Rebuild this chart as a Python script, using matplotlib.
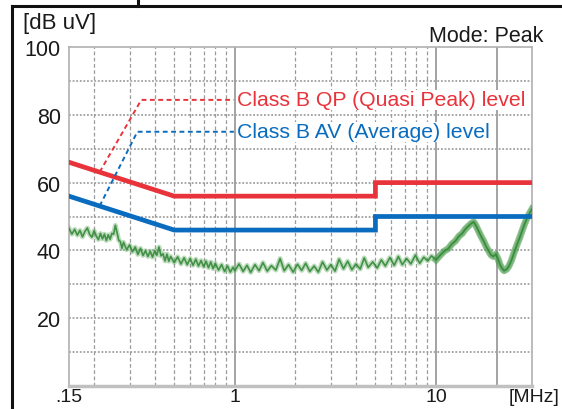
import matplotlib
matplotlib.use("Agg")
import matplotlib.pyplot as plt
from matplotlib.lines import Line2D

plt.rcParams["font.family"] = ["Liberation Sans", "DejaVu Sans"]

# limit lines (CISPR class B) [MHz, dBuV]
qp_freq = [0.15, 0.5, 5.0, 5.0, 30.0]
qp_level = [66, 56, 56, 60, 60]
av_freq = [0.15, 0.5, 5.0, 5.0, 30.0]
av_level = [56, 46, 46, 50, 50]

noise_freq = [
    0.15, 0.155, 0.16, 0.165, 0.17, 0.175, 0.18, 0.185, 0.19, 0.195, 0.2, 0.205,
    0.21, 0.215, 0.22, 0.225, 0.23, 0.235, 0.24, 0.245, 0.25, 0.255, 0.26, 0.265,
    0.27, 0.275, 0.28, 0.29, 0.30, 0.31, 0.32, 0.33, 0.34, 0.35, 0.36, 0.37, 0.38,
    0.39, 0.40, 0.41, 0.42, 0.43, 0.44, 0.45, 0.46, 0.47, 0.48, 0.50, 0.52, 0.54,
    0.56, 0.58, 0.60, 0.62, 0.64, 0.66, 0.68, 0.70, 0.72, 0.74, 0.76, 0.78, 0.80,
    0.83, 0.86, 0.89, 0.92, 0.95, 0.98,
    1.0, 1.05, 1.1, 1.15, 1.2, 1.26, 1.32, 1.38, 1.45, 1.52, 1.6, 1.68, 1.76, 1.85,
    1.95, 2.05, 2.15, 2.25, 2.36, 2.48, 2.6, 2.73, 2.87, 3.0, 3.15, 3.3, 3.47, 3.64,
    3.82, 4.0, 4.2, 4.4, 4.6, 4.85, 5.1, 5.35, 5.6, 5.9, 6.2, 6.5, 6.8, 7.15, 7.5,
    7.9, 8.3, 8.7, 9.1, 9.5, 10.0,
    10.5, 11, 11.5, 12, 12.5, 13, 13.5, 14, 14.5, 15, 15.4, 15.8, 16.3, 16.8, 17.3,
    17.8, 18.3, 18.8, 19.3, 19.8, 20.3, 20.8, 21.3, 21.8, 22.4, 23, 23.7, 24.4,
    25.2, 26, 26.8, 27.6, 28.4, 29.2, 30,
]
noise_level = [
    46.5, 44.8, 46.2, 44.5, 45.9, 44.0, 45.6, 46.6, 44.7, 43.9, 45.8, 44.2,
    43.2, 45.0, 43.4, 44.8, 42.9, 44.6, 43.3, 45.0, 44.8, 47.4, 45.2, 43.0,
    42.6, 40.6, 42.4, 40.2, 41.6, 39.6, 41.0, 38.8, 40.6, 38.5, 39.9, 38.2, 39.8,
    38.0, 39.9, 38.6, 41.0, 38.4, 39.0, 36.9, 38.9, 36.8, 38.2, 36.4, 38.1, 36.0,
    37.8, 35.8, 37.6, 35.6, 37.4, 35.4, 37.0, 35.2, 36.8, 34.9, 36.6, 34.6, 36.2,
    34.2, 35.8, 33.8, 35.4, 33.6, 35.0,
    34.0, 36.0, 33.8, 35.6, 33.5, 35.8, 34.0, 36.4, 33.9, 35.5, 34.2, 37.6, 34.0,
    35.8, 33.6, 35.9, 34.1, 36.2, 33.8, 35.4, 33.6, 36.6, 34.2, 35.8, 33.9, 37.4,
    34.6, 36.8, 34.3, 36.0, 34.5, 37.8, 35.0, 36.6, 34.8, 37.2, 35.4, 37.9, 35.6,
    38.2, 35.8, 37.6, 36.0, 38.6, 36.2, 38.0, 36.9, 38.4, 37.2,
    38.6, 39.8, 40.5, 41.9, 42.8, 44.2, 45.0, 46.3, 47.2, 48.0, 48.4, 47.3, 45.6,
    44.0, 42.6, 41.0, 39.8, 38.6, 38.2, 38.9, 37.6, 35.8, 34.7, 34.0, 34.4, 35.3,
    37.0, 39.2, 41.5, 43.6, 45.8, 47.9, 49.6, 51.0, 52.2,
]

y_ticks = [20, 40, 60, 80, 100]
x_ticks = [0.15, 1, 10]
x_ticklabels = [".15", "1", "10"]
minor_dashed = [0.2, 0.3, 0.4, 0.5, 0.6, 0.7, 0.8, 0.9, 2, 3, 4, 5, 6, 7, 8, 9]
major_solid = [1, 10, 20]

red = "#e8333b"
blue = "#0a6cbe"

fig = plt.figure(figsize=(5.62, 4.10), dpi=100)
ax = fig.add_axes([69 / 562, 23 / 410, 463 / 562, 339 / 410])
ax.set_xscale("log")
ax.set_xlim(0.15, 30)
ax.set_ylim(0, 100)

# grid
for f in minor_dashed:
    ax.axvline(f, color="#9a9a9a", lw=0.9, ls=(0, (3, 2)), zorder=1)
for f in major_solid:
    ax.axvline(f, color="#8a8a8a", lw=1.1, zorder=1)
for v in range(10, 100, 10):
    ax.axhline(v, color="#a0a0a0", lw=1.3, ls=(0, (1, 1)), zorder=1)

# noise trace: wide soft band + darker core
i10 = noise_freq.index(10.0)
ax.plot(noise_freq, noise_level, color="#7ab87a", lw=3.5, alpha=0.5, zorder=3)
ax.plot(noise_freq[i10:], noise_level[i10:], color="#4a9a4c", lw=5, alpha=0.6, zorder=3)
ax.plot(noise_freq, noise_level, color="#2c8431", lw=1.2, alpha=0.85, zorder=4)

# limits
ax.plot(qp_freq, qp_level, color=red, lw=3.4, zorder=5, solid_joinstyle="miter")
ax.plot(av_freq, av_level, color=blue, lw=3.4, zorder=5, solid_joinstyle="miter")

# annotation leaders
ax.plot([0.213, 0.343, 0.99], [63.1, 84.4, 84.4], color=red, lw=1.4,
        ls=(0, (2.5, 1.8)), zorder=6)
ax.plot([0.213, 0.328, 0.99], [53.1, 75.0, 75.0], color=blue, lw=1.4,
        ls=(0, (2.5, 1.8)), zorder=6)
ax.text(1.02, 84.4, "Class B QP (Quasi Peak) level", color=red, fontsize=15.3,
        va="center", ha="left", zorder=7,
        bbox=dict(facecolor="white", edgecolor="none", pad=0.5))
ax.text(1.02, 75.0, "Class B AV (Average) level", color=blue, fontsize=15.3,
        va="center", ha="left", zorder=7,
        bbox=dict(facecolor="white", edgecolor="none", pad=0.5))

ax.set_yticks(y_ticks)
ax.set_yticklabels([str(v) for v in y_ticks])
ax.set_xticks(x_ticks)
ax.set_xticklabels(x_ticklabels)
ax.minorticks_off()
ax.tick_params(axis="y", length=0, labelsize=15.5, labelcolor="#1a1a1a", pad=6)
ax.tick_params(axis="x", length=0, labelsize=14, labelcolor="#1a1a1a", pad=1.5)

for side in ["left", "right", "top"]:
    ax.spines[side].set_color("#b0b0b0")
    ax.spines[side].set_linewidth(1.2)
ax.spines["bottom"].set_color("#c0c0c0")
ax.spines["bottom"].set_linewidth(2.5)

fig.text(23 / 562, 1 - 24 / 410, "[dB uV]", fontsize=16, color="#1a1a1a",
         ha="left", va="center")
fig.text(543 / 562, 1 - 37 / 410, "Mode: Peak", fontsize=15.5, color="#1a1a1a",
         ha="right", va="center")
fig.text(509 / 562, 1 - 398 / 410, "[MHz]", fontsize=14, color="#1a1a1a",
         ha="left", va="center")

# outer frame
fig.add_artist(Line2D([12 / 562, 12 / 562], [0, 1 - 7 / 410], color="#111111", lw=2.2))
fig.add_artist(Line2D([12 / 562, 1], [1 - 7 / 410, 1 - 7 / 410], color="#111111", lw=2.2))
fig.add_artist(Line2D([138 / 562, 138 / 562], [1 - 7 / 410, 1], color="#111111", lw=2.2))

fig.savefig("out.png", dpi=100)
